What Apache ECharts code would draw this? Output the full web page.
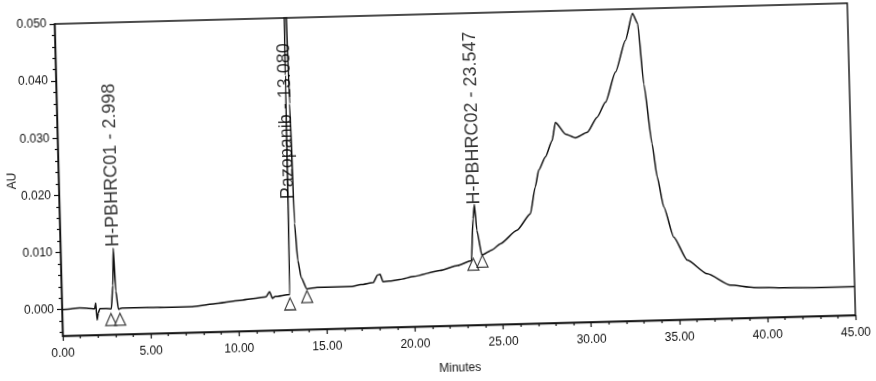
<!DOCTYPE html>
<html>
<head>
<meta charset="utf-8">
<script src="https://cdn.jsdelivr.net/npm/echarts@6/dist/echarts.min.js"></script>
<style>
html,body{margin:0;padding:0;background:#fff;}
#chart{width:876px;height:381px;transform:rotate(-1.5deg);transform-origin:438px 190px;}
</style>
</head>
<body>
<div id="chart"></div>
<script>
// Retention time (minutes) and absorbance (AU) of the trace
const times = [0.00,0.50,1.00,1.50,1.85,1.92,1.98,2.05,2.15,2.50,2.80,2.92,2.998,3.08,3.20,3.40,4.00,4.80,6.00,7.30,8.60,10.10,11.00,11.60,11.80,11.95,12.10,12.95,13.02,13.08,13.22,13.32,13.45,13.62,13.92,14.50,15.50,16.40,17.00,17.70,17.95,18.10,18.25,18.60,19.20,20.00,21.50,22.50,23.30,23.45,23.547,23.65,23.90,24.50,24.96,25.93,26.71,27.03,27.25,27.65,28.05,28.27,28.82,29.38,30.06,30.64,31.14,31.75,32.36,32.80,33.08,33.34,33.72,33.96,34.29,34.81,35.54,36.66,37.96,39.27,41.00,43.00,45.00];
const au = [0.0000,0.0001,0.0002,0.0001,0.0000,0.0010,-0.0020,-0.0008,0.0000,0.0000,-0.0001,0.0040,0.0105,0.0030,-0.0002,0.0000,0.0000,0.0000,-0.0001,-0.0001,0.0003,0.0008,0.0011,0.0013,0.0022,0.0010,0.0013,0.0016,0.0400,0.0700,0.0350,0.0140,0.0075,0.0045,0.0025,0.0027,0.0027,0.0027,0.0030,0.0033,0.0046,0.0047,0.0034,0.0035,0.0037,0.0042,0.0051,0.0059,0.0067,0.0140,0.0165,0.0120,0.0076,0.0085,0.0095,0.0118,0.0146,0.0193,0.0222,0.0245,0.0273,0.0305,0.0284,0.0277,0.0286,0.0312,0.0338,0.0390,0.0445,0.0492,0.0474,0.0368,0.0263,0.0205,0.0152,0.0099,0.0058,0.0033,0.0012,0.0007,0.0005,0.0004,0.0004];

// Peak annotations
const peakNames = ["H-PBHRC01 - 2.998","Pazopanib - 13.080","H-PBHRC02 - 23.547"];
const peakLabelTimes = [2.998, 13.02, 23.547];
const peakLabelAU = [0.0106, 0.0181, 0.0163];

// Integration baseline markers (triangles)
const markerTimes = [2.77, 3.28, 12.95, 13.92, 23.40, 23.92];
const markerAU = [-0.0009, -0.0009, 0.0010, 0.0022, 0.0071, 0.0076];

// Axis ticks
const yLabelValues = [0.000,0.010,0.020,0.030,0.040,0.050];
const yMinorValues = [-0.004,-0.002,0.002,0.004,0.006,0.008,0.012,0.014,0.016,0.018,0.022,0.024,0.026,0.028,0.032,0.034,0.036,0.038,0.042,0.044,0.046,0.048];

const FONT = 'Liberation Sans, Arial, sans-serif';
const ink = '#111';
const chart = echarts.init(document.getElementById('chart'), null, {renderer:'canvas'});
const yMin = -0.0046, yMax = 0.050;
chart.setOption({
  animation:false,
  backgroundColor:'#fff',
  grid:{left:59,right:24,top:14,bottom:55,containLabel:false,outerBoundsMode:'none',show:true,borderColor:ink,borderWidth:1.4,backgroundColor:'transparent'},
  xAxis:{
    type:'value',min:0,max:45,interval:5,
    name:'Minutes',nameLocation:'middle',nameGap:37,nameMoveOverlap:false,
    nameTextStyle:{fontFamily:FONT,fontSize:12,color:ink},
    axisLine:{show:true,onZero:false,lineStyle:{color:ink,width:1.4}},
    axisTick:{show:true,length:5,lineStyle:{color:ink,width:1.2}},
    minorTick:{show:true,splitNumber:5,length:3,lineStyle:{color:ink,width:1.2}},
    splitLine:{show:false},
    axisLabel:{margin:12,fontFamily:FONT,fontSize:12,color:ink,formatter:v=>v.toFixed(2)}
  },
  yAxis:[{
    type:'value',min:yMin,max:yMax,
    name:'AU',nameLocation:'middle',nameGap:40,nameMoveOverlap:false,
    nameTextStyle:{fontFamily:FONT,fontSize:12,color:ink},
    axisLine:{show:true,onZero:false,lineStyle:{color:ink,width:1.4}},
    axisTick:{show:true,length:5,customValues:yLabelValues,lineStyle:{color:ink,width:1.2}},
    splitLine:{show:false},
    axisLabel:{margin:8,fontFamily:FONT,fontSize:12,color:ink,customValues:yLabelValues,formatter:v=>v.toFixed(3)}
  },{
    type:'value',min:yMin,max:yMax,position:'left',
    axisLine:{show:false},
    axisTick:{show:true,length:3,customValues:yMinorValues,lineStyle:{color:ink,width:1.2}},
    axisLabel:{show:false},
    splitLine:{show:false}
  }],
  series:[{
    type:'line',
    data:times.map((t,i)=>[t,au[i]]),
    showSymbol:false,
    smooth:0.2,
    smoothMonotone:'x',
    clip:true,
    lineStyle:{color:ink,width:1.5}
  },{
    type:'scatter',
    data:markerTimes.map((t,i)=>[t,markerAU[i]]),
    symbol:'triangle',
    symbolSize:[11,12],
    symbolOffset:[0,6],
    itemStyle:{color:'#fff',borderColor:ink,borderWidth:1.2},
    z:5
  },{
    type:'scatter',
    data:peakLabelTimes.map((t,i)=>({value:[t,peakLabelAU[i]],name:peakNames[i]})),
    symbolSize:0,
    label:{show:true,position:'top',distance:1,rotate:90,align:'left',verticalAlign:'middle',
      formatter:p=>p.name,fontFamily:FONT,fontSize:18,color:'#000'},
    z:6
  }]
});
</script>
</body>
</html>
